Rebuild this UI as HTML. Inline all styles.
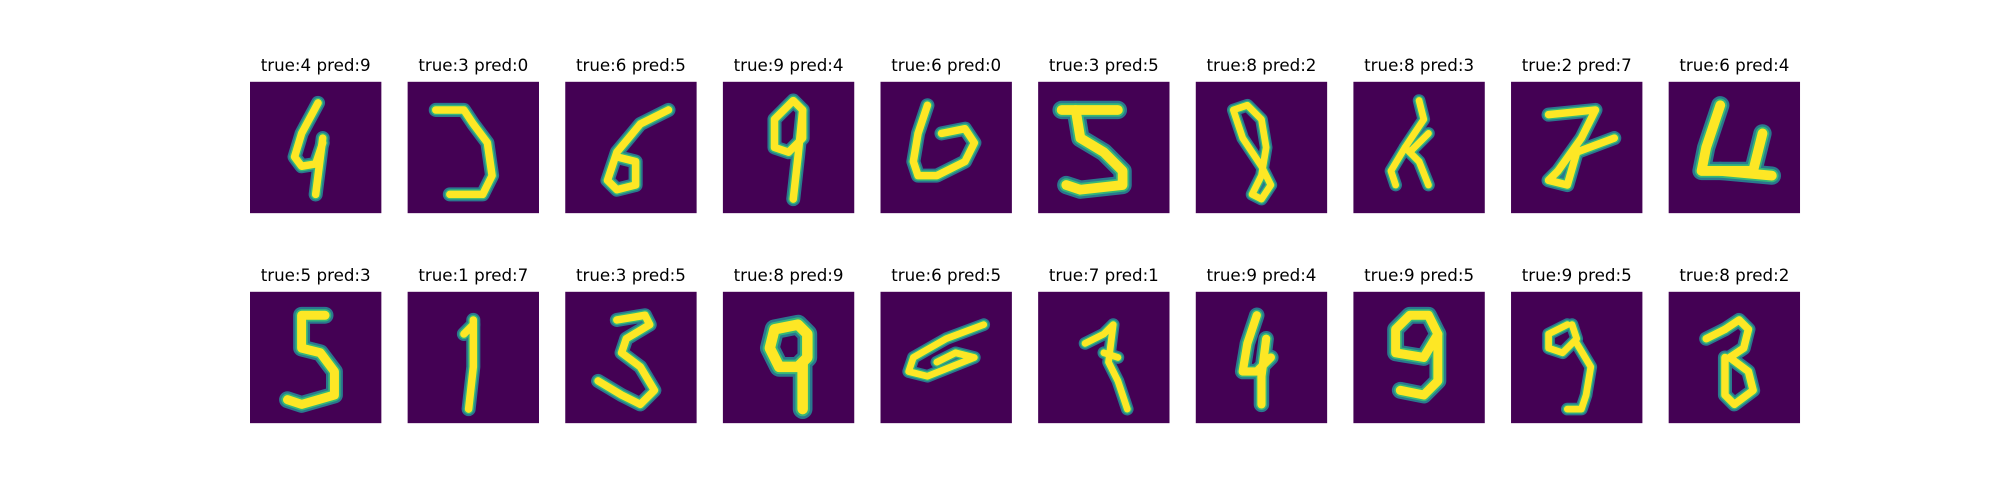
<!DOCTYPE html>
<html><head><meta charset="utf-8"><style>
html,body{margin:0;padding:0;background:#fff;width:2000px;height:500px;overflow:hidden}
</style></head><body>
<svg id="fig" width="2000" height="500" viewBox="0 0 2000 500" xmlns="http://www.w3.org/2000/svg"></svg>
<script>
const trueLabels = [4,3,6,9,6,3,8,8,2,6, 5,1,3,8,6,7,9,9,9,8];
const predLabels = [9,0,5,4,0,5,2,3,7,4, 3,7,5,9,5,1,4,5,5,2];
const strokes = [
 ["M14.5 4.5 L11 11 L9.5 16 L11 18 L14 17.5 L15.5 13","M15.5 12 L14 24"],
 ["M6 6 L12 6 L14 9 L17 13 L18 20 L16 24 L9 24"],
 ["M22 6 L16 9 L11 15 L9 21 L11 23 L15 22 L15 17 L11 16"],
 ["M15 4 L11 8 L11 14 L14 15 L17 12 L17 6 L15 4","M17 6 L16 16 L15 25"],
 ["M10 5 L8 11 L7 17 L8 20 L12 20 L18 17 L20 13 L18 10 L13 11"],
 ["M5 6 L17 6","M8 6 L9 12 L14 15 L18 19 L18 22 L9 23 L6 22"],
 ["M8 6 L11 5 L14 8 L15 14 L14 20 L12 24 L14 25 L16 22 L14 18 L10 12 L8 6"],
 ["M14 4 L15 8 L11 14 L8 19 L9 22","M11 14 L14 17 L16 22","M12 15 L16 11"],
 ["M8 7 L18 6 L15 12 L10 19 L8 21 L12 22 L14 15 L22 12"],
 ["M11 5 L8 14 L7 19 L18 19 L20 11","M11 19 L22 20"],
 ["M16 5 L11 5 L11 12 L15 13 L18 17 L18 22 L11 24 L8 23"],
 ["M14 6 L14 16 L13 25","M12 9 L14 7"],
 ["M11 6 L17 5 L18 7 L13 10 L12 13 L16 16 L19 21 L16 24 L12 22 L7 19"],
 ["M11 8 L16 7 L18 9 L18 14 L16 16 L12 16 L10 12 L11 8","M17 15 L17 25"],
 ["M22 7 L14 10 L7 14 L6 17 L10 18 L15 16 L20 14 L16 13 L12 15"],
 ["M10 11 L14 9 L16 7 L15 15 L17 19 L19 25","M14 13 L17 14"],
 ["M13 5 L11 11 L10 17 L13 17 L16 14","M15 10 L14 18 L14 24"],
 ["M12 5 L9 8 L9 13 L15 14 L18 9 L16 5 L12 5","M18 9 L18 19 L15 22 L10 21"],
 ["M12 7 L8 9 L8 12 L11 13 L14 10 L13 7","M14 11 L17 16 L16 22 L15 25 L12 25"],
 ["M12 8 L15 6 L17 8 L16 12 L13 14 L17 17 L18 21 L14 24 L12 22 L12 14","M8 10 L12 8"]
];
const thick = [1,1,1,1,1,1.3,0.9,0.9,1,1.3, 1.2,1,1,1.4,0.9,0.9,1.1,1.2,0.9,1];
const NS="http://www.w3.org/2000/svg";
const svg=document.getElementById('fig');
const W=131.36, gapX=157.63, left=250, rowTop=[81.8,291.8];
function mk(t,a){const e=document.createElementNS(NS,t);for(const k in a)e.setAttribute(k,a[k]);return e;}
for(let i=0;i<trueLabels.length;i++){
  const r=Math.floor(i/10), c=i%10;
  const x=left+c*gapX, y=rowTop[r];
  const g=mk('g',{transform:`translate(${x},${y})`});
  
  
  const bg=mk('rect',{x:0,y:0,width:W,height:W,fill:'#440154'});
  
  
  g.appendChild(bg);
  const inner=mk('g',{transform:`scale(${W/28})`,fill:'none','stroke-linejoin':'round','stroke-linecap':'round'});
  strokes[i].forEach(d=>{
    inner.appendChild(mk('path',{d:d,stroke:'#2a788e','stroke-width':3.0*thick[i]}));
  });
  strokes[i].forEach(d=>{
    inner.appendChild(mk('path',{d:d,stroke:'#35b779','stroke-width':2.2*thick[i]}));
  });
  strokes[i].forEach(d=>{
    inner.appendChild(mk('path',{d:d,stroke:'#fde725','stroke-width':1.6*thick[i]}));
  });
  g.appendChild(inner);
  svg.appendChild(g);
  const t=mk('text',{x:x+W/2,y:y-11,'text-anchor':'middle','font-family':'DejaVu Sans, Liberation Sans, sans-serif','font-size':'16.7px',fill:'#000'});
  t.textContent='true:'+trueLabels[i]+' pred:'+predLabels[i];
  
  
  svg.appendChild(t);
}
</script>
</body></html>
